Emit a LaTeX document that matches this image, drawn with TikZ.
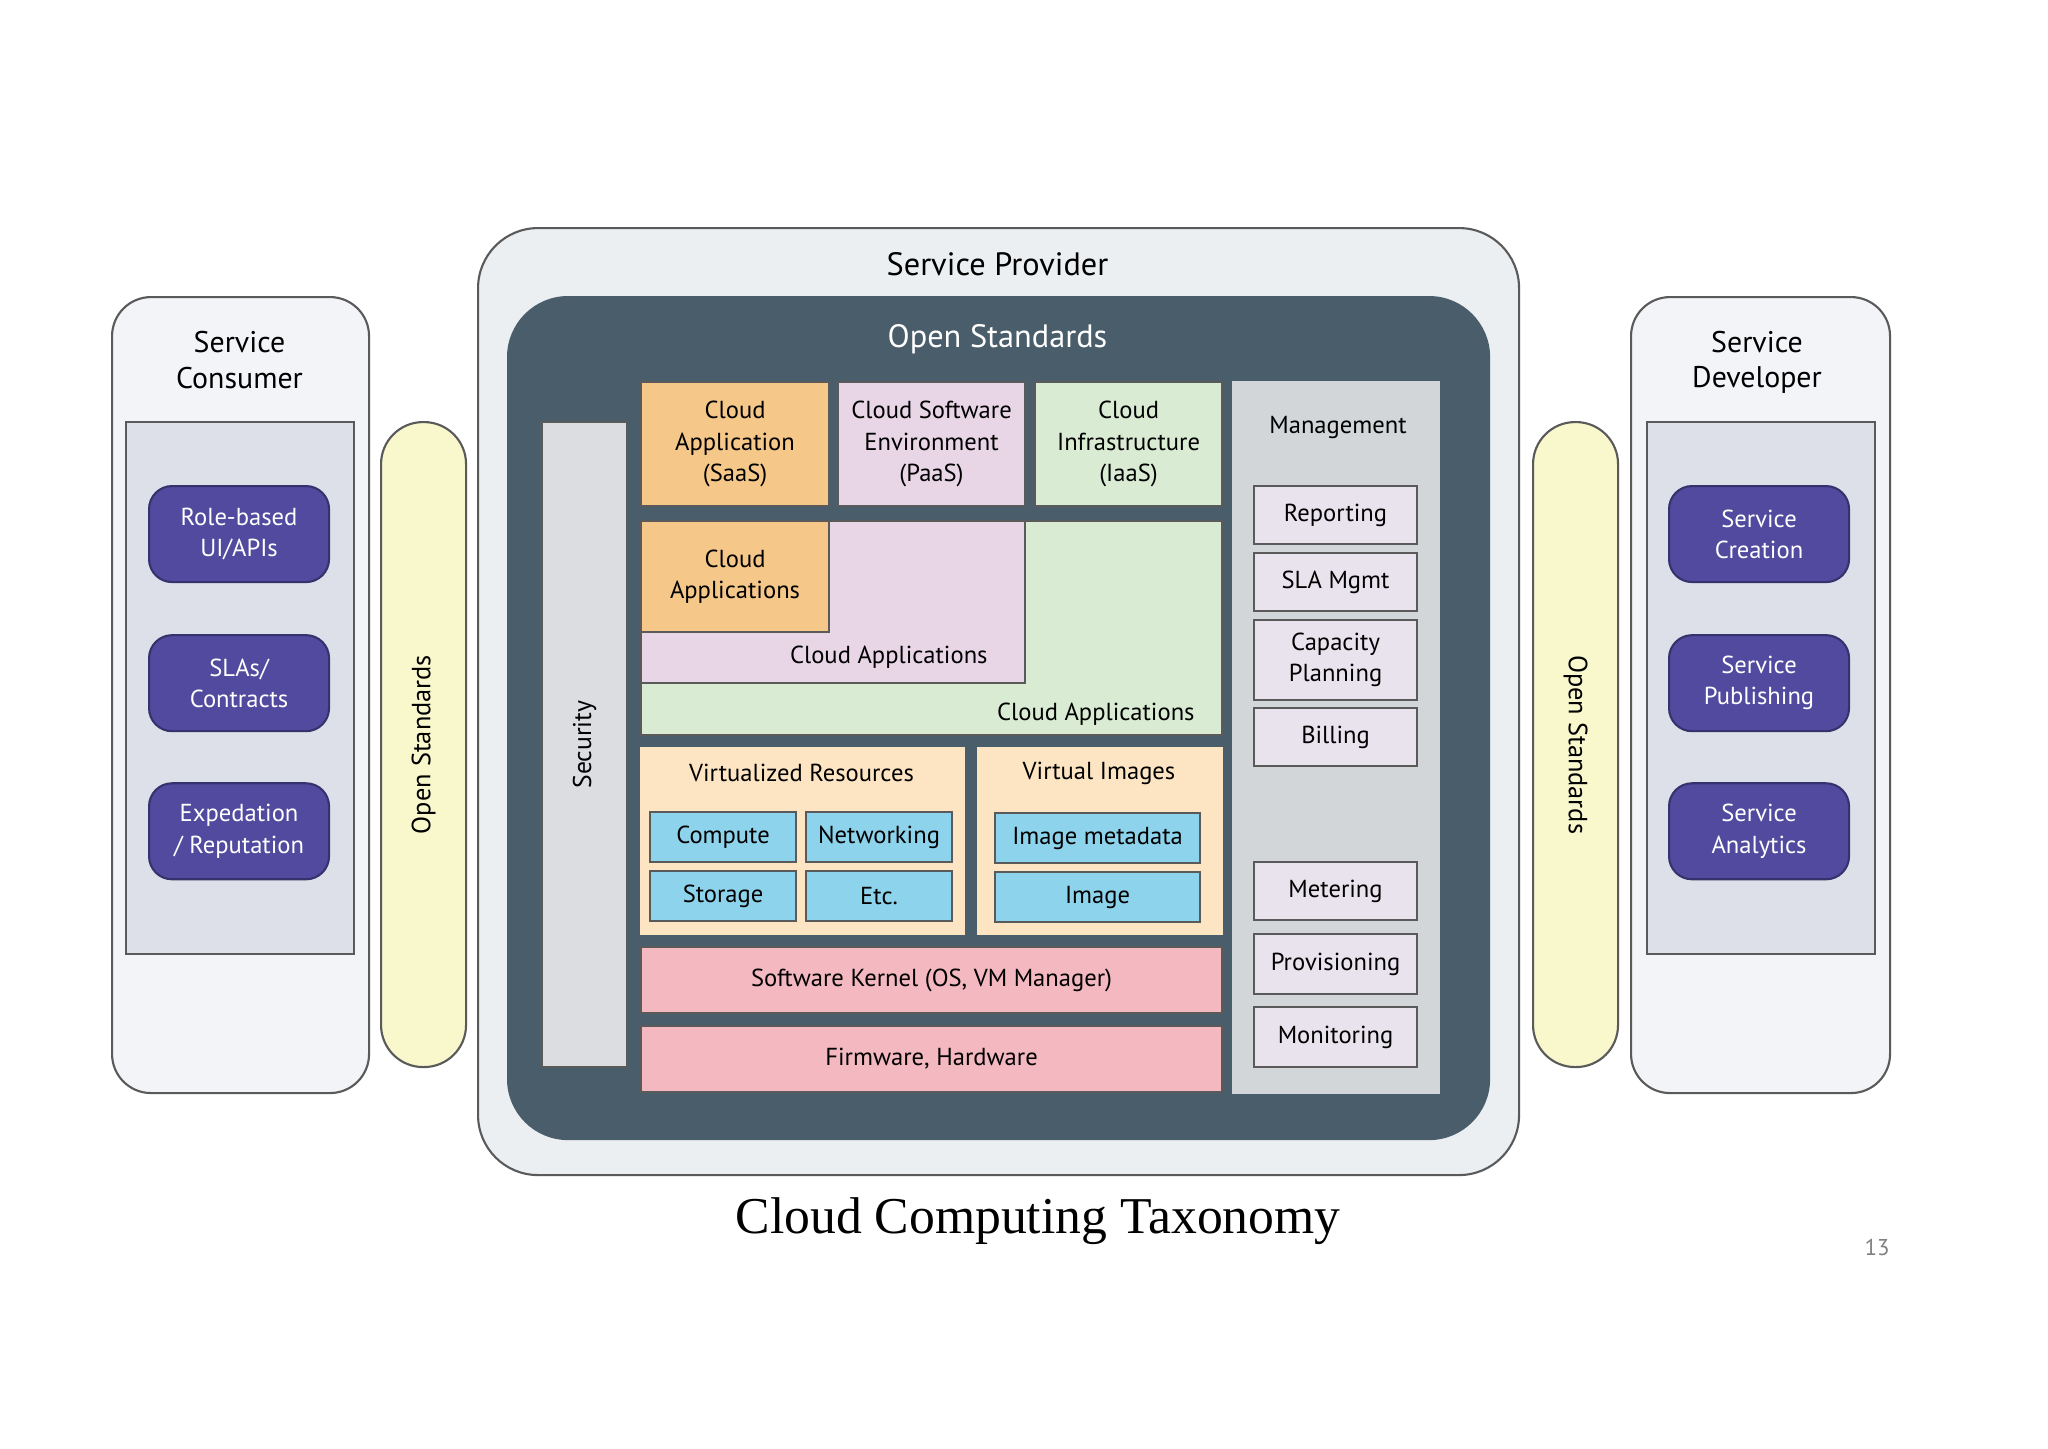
\documentclass[tikz,border=0pt]{standalone}
\usepackage{fontspec}
\setmainfont{PT Sans}
\newfontfamily\captionfont{Liberation Serif}
\usepackage{xcolor}
\usepackage{tikz}
\usetikzlibrary{positioning}

\definecolor{lineC}{HTML}{5A5A5A}
\definecolor{outerC}{HTML}{F2F4F7}
\definecolor{provC}{HTML}{ECEFF2}
\definecolor{darkC}{HTML}{4A5D6A}
\definecolor{panelC}{HTML}{DDE0E8}
\definecolor{btnC}{HTML}{524A9E}
\definecolor{btnLine}{HTML}{36326E}
\definecolor{pillC}{HTML}{F9F7CC}
\definecolor{secC}{HTML}{DCDDE1}
\definecolor{saasC}{HTML}{F5C88A}
\definecolor{paasC}{HTML}{E8D6E7}
\definecolor{iaasC}{HTML}{D9EBD3}
\definecolor{mgmtC}{HTML}{D2D6D9}
\definecolor{mboxC}{HTML}{E9E3EE}
\definecolor{peachC}{HTML}{FDE5C3}
\definecolor{cyanC}{HTML}{8DD3EB}
\definecolor{pinkC}{HTML}{F3B8C0}

\begin{document}
\begin{tikzpicture}[x=1cm, y=-1cm,
    every node/.style={font=\fontsize{7}{8.9}\selectfont},
    blk/.style={draw=lineC, line width=0.6pt, anchor=north west, inner sep=0pt, align=center},
    sz/.style 2 args={minimum width=#1cm, minimum height=#2cm},
    titletext/.style={align=center, font=\fontsize{8.5}{10}\selectfont},
    bigtitle/.style={align=center, font=\fontsize{9.2}{11}\selectfont},
    btn/.style={blk, fill=btnC, draw=btnLine, text=white, rounded corners=0.23cm, sz={1.80}{0.96}},
    pill/.style={blk, fill=pillC, rounded corners=0.42cm, sz={0.85}{6.45}},
    vtext/.style={font=\fontsize{7.5}{9}\selectfont},
    mbox/.style={blk, fill=mboxC, sz={1.63}{0.58}},
    cyanbox/.style={blk, fill=cyanC, sz={1.46}{0.50}},
    layer/.style={blk, fill=pinkC, sz={5.81}{0.66}}]

    % Hintergrund und Rahmen
    \fill[white] (0,0) rectangle (20.48,14.48);
    \useasboundingbox (0,0) rectangle (20.48,14.48);

    % Service Consumer
    \node[blk, fill=outerC, sz={2.57}{7.96}, rounded corners=0.39cm] (consumer) at (1.11,2.96) {};
    \node[titletext] (consumerT) at (2.395,3.60) {Service\\Consumer};
    \node[blk, fill=panelC, sz={2.28}{5.32}] (consumerP) at (1.25,4.21) {};
    \node[btn] (rolebased) at (1.48,4.85) {Role-based\\UI/APIs};
    \node[btn, anchor=north, below=0.51cm of rolebased] (slas) {SLAs/\\Contracts};
    \node[btn, anchor=north, below=0.50cm of slas] (expedation) {Expedation\\/ Reputation};

    % Open Standards links
    \node[pill] (stdL) at (3.80,4.21) {};
    \node[rotate=90, vtext] (stdLT) at (stdL.center) {Open Standards};

    % Service Provider
    \node[blk, fill=provC, sz={10.41}{9.47}, rounded corners=0.6cm] (provider) at (4.77,2.27) {};
    \node[bigtitle] (providerT) at (9.975,2.64) {Service Provider};
    \node[blk, fill=darkC, draw=darkC, sz={9.81}{8.42}, rounded corners=0.6cm] (dark) at (5.07,2.96) {};
    \node[bigtitle, text=white] (darkT) at (9.975,3.39) {Open Standards};

    % Security
    \node[blk, fill=secC, sz={0.85}{6.45}] (security) at (5.41,4.21) {};
    \node[rotate=90, font=\fontsize{7.3}{8.5}\selectfont] (securityT) at (security.center) {Security};

    % SaaS, PaaS, IaaS
    \node[blk, fill=saasC, sz={1.88}{1.24}] (saas) at (6.40,3.81) {Cloud\\Application\\(SaaS)};
    \node[blk, fill=paasC, sz={1.87}{1.24}] (paas) at (8.37,3.81) {Cloud Software\\Environment\\(PaaS)};
    \node[blk, fill=iaasC, sz={1.87}{1.24}] (iaas) at (10.34,3.81) {Cloud\\Infrastructure\\(IaaS)};

    % Cloud Applications
    \node[blk, fill=iaasC, sz={5.81}{2.14}] (appsG) at (6.40,5.20) {};
    \node[blk, fill=paasC, sz={3.84}{1.62}] (appsP) at (6.40,5.20) {};
    \node[blk, fill=saasC, sz={1.88}{1.11}] (appsO) at (6.40,5.20) {Cloud\\Applications};
    \node[anchor=east] (appsPT) at (10.00,6.57) {Cloud Applications};
    \node[anchor=east] (appsGT) at (12.07,7.14) {Cloud Applications};

    % Management
    \node[blk, fill=mgmtC, draw=mgmtC, sz={2.06}{7.11}] (mgmt) at (12.32,3.81) {};
    \node (mgmtT) at (13.38,4.27) {Management};
    \node[mbox] (reporting) at (12.53,4.85) {Reporting};
    \node[mbox] (slamgmt) at (12.53,5.52) {SLA Mgmt};
    \node[mbox, sz={1.63}{0.80}] (capacity) at (12.53,6.19) {Capacity\\Planning};
    \node[mbox] (billing) at (12.53,7.07) {Billing};
    \node[mbox] (metering) at (12.53,8.61) {Metering};
    \node[mbox, sz={1.63}{0.60}] (provisioning) at (12.53,9.33) {Provisioning};
    \node[mbox, sz={1.63}{0.60}] (monitoring) at (12.53,10.06) {Monitoring};

    % Virtualized Resources / Virtual Images
    \node[blk, fill=peachC, draw=peachC, sz={3.23}{1.86}] (virtres) at (6.40,7.47) {};
    \node (virtresT) at (8.015,7.73) {Virtualized Resources};
    \node[cyanbox] (compute) at (6.49,8.11) {Compute};
    \node[cyanbox] (networking) at (8.05,8.11) {Networking};
    \node[cyanbox] (storage) at (6.49,8.70) {Storage};
    \node[cyanbox] (etc) at (8.05,8.70) {Etc.};
    \node[blk, fill=peachC, draw=peachC, sz={2.44}{1.86}] (virtimg) at (9.77,7.47) {};
    \node (virtimgT) at (10.99,7.73) {Virtual Images};
    \node[cyanbox, sz={2.05}{0.50}] (imgmeta) at (9.94,8.12) {Image metadata};
    \node[cyanbox, sz={2.05}{0.50}] (image) at (9.94,8.71) {Image};

    % Kernel und Hardware
    \node[layer] (kernel) at (6.40,9.46) {Software Kernel (OS, VM Manager)};
    \node[layer] (firmware) at (6.40,10.25) {Firmware, Hardware};

    % Open Standards rechts
    \node[pill] (stdR) at (15.32,4.21) {};
    \node[rotate=-90, vtext] (stdRT) at (stdR.center) {Open Standards};

    % Service Developer
    \node[blk, fill=outerC, sz={2.59}{7.96}, rounded corners=0.39cm] (developer) at (16.30,2.96) {};
    \node[titletext] (developerT) at (17.57,3.62) {Service\\Developer};
    \node[blk, fill=panelC, sz={2.28}{5.32}] (developerP) at (16.46,4.21) {};
    \node[btn] (creation) at (16.68,4.85) {Service\\Creation};
    \node[btn, anchor=north, below=0.51cm of creation] (publishing) {Service\\Publishing};
    \node[btn, anchor=north, below=0.50cm of publishing] (analytics) {Service\\Analytics};

    % Titel
    \node[font=\captionfont\fontsize{14.7}{17}\selectfont] (caption) at (10.38,12.21) {Cloud Computing Taxonomy};
    \node[font=\fontsize{6.5}{8}\selectfont, text=gray] (pagenum) at (18.77,12.47) {13};
\end{tikzpicture}
\end{document}
